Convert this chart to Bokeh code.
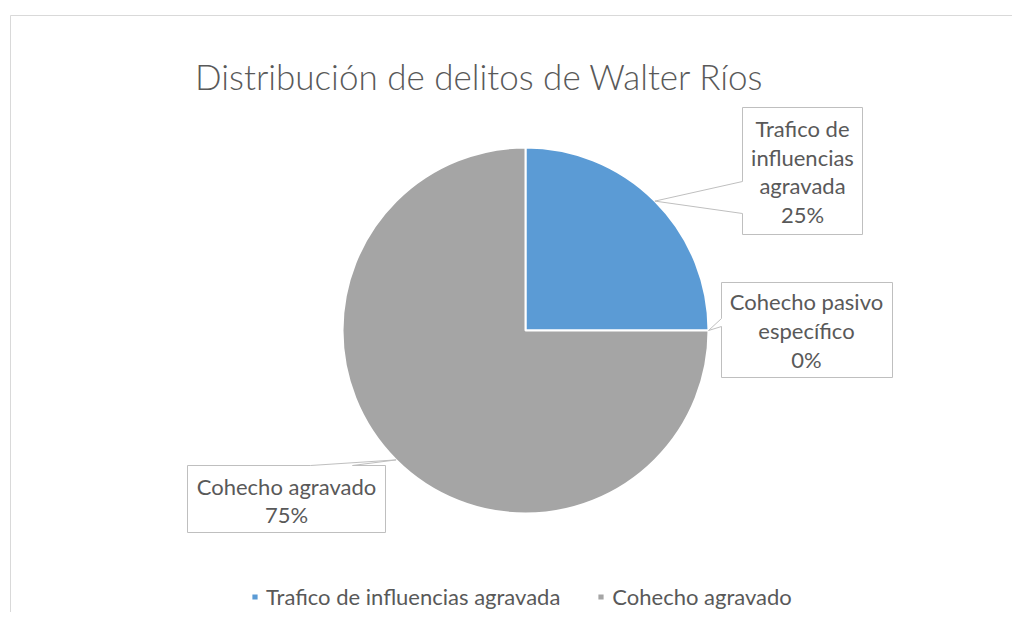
import math
from bokeh.plotting import figure
from bokeh.models import ColumnDataSource, Range1d, Legend, LegendItem, Label
from bokeh.core.properties import value
from bokeh.embed import file_html
from bokeh.resources import INLINE

# ---- data ----
categories = ["Trafico de influencias agravada", "Cohecho pasivo específico", "Cohecho agravado"]
label_names = ["Trafico de\ninfluencias\nagravada", "Cohecho pasivo\nespecífico", "Cohecho agravado"]
values = [25, 0, 75]
colors = ["#5B9BD5", "#ED7D31", "#A5A5A5"]
title_text = "Distribución de delitos de Walter Ríos"

FONT = "Lato"
TXT = "#595959"

W, H = 1012, 612
def Y(py):
    return H - py

p = figure(width=W, height=H, output_backend="svg", toolbar_location=None,
           x_range=Range1d(0, W), y_range=Range1d(0, H),
           min_border=0, outline_line_color=None)
p.axis.visible = False
p.grid.visible = False
p.background_fill_color = "white"
p.border_fill_color = "white"

# chart frame
p.line([10, 10, 1040], [Y(700), Y(15), Y(15)], line_color="#D9D9D9", line_width=1)

# ---- pie ----
cx, cy, r = 525, Y(330), 183
total = float(sum(values))
starts, ends, mids = [], [], []
cum = 0.0
for v in values:
    a0 = math.pi / 2 - 2 * math.pi * cum / total
    cum += v
    a1 = math.pi / 2 - 2 * math.pi * cum / total
    starts.append(a0); ends.append(a1); mids.append((a0 + a1) / 2)

idx = [i for i, v in enumerate(values) if v > 0]
src = ColumnDataSource(dict(
    start=[starts[i] for i in idx], end=[ends[i] for i in idx],
    color=[colors[i] for i in idx], name=[categories[i] for i in idx]))
wedges = p.wedge(x=cx, y=cy, radius=r, start_angle="start", end_angle="end",
                 direction="clock", fill_color="color", line_color="white",
                 line_width=2, source=src)

# ---- callout labels ----
boxes = [
    dict(l=742, t=107, r=862, b=234, side="left", p0=181, p1=213, tx=802, ty=171),
    dict(l=721, t=282, r=892, b=377, side="left", p0=318, p1=326, tx=806, ty=330),
    dict(l=187, t=465, r=385, b=532, side="top", p0=310, p1=352, tx=286, ty=500),
]
for i, bx in enumerate(boxes):
    ax = cx + r * math.cos(mids[i])
    ay = cy + r * math.sin(mids[i])
    if bx["side"] == "left":
        xs = [bx["l"], bx["r"], bx["r"], bx["l"], bx["l"], ax, bx["l"]]
        ys = [Y(bx["t"]), Y(bx["t"]), Y(bx["b"]), Y(bx["b"]), Y(bx["p1"]), ay, Y(bx["p0"])]
    else:
        xs = [bx["l"], bx["p0"], ax, bx["p1"], bx["r"], bx["r"], bx["l"]]
        ys = [Y(bx["t"]), Y(bx["t"]), ay, Y(bx["t"]), Y(bx["t"]), Y(bx["b"]), Y(bx["b"])]
    p.patch(xs, ys, fill_color="white", line_color="#BFBFBF", line_width=1)
    pct = round(100 * values[i] / total)
    p.text(x=[bx["tx"]], y=[Y(bx["ty"])], text=[f"{label_names[i]}\n{pct}%"],
           text_align="center", text_baseline="middle",
           text_font=value(FONT), text_font_size="22px", text_color=TXT,
           text_line_height=1.07)

# ---- title ----
p.add_layout(Label(x=479, y=Y(75), text=title_text, text_align="center",
                   text_baseline="middle", text_font="Lato Light", text_font_size="35px",
                   text_color=TXT))

# ---- legend ----
items = [LegendItem(label=categories[i], renderers=[wedges], index=k)
         for k, i in enumerate(idx)]
legend = Legend(items=items, orientation="horizontal", location=(250, 2),
                glyph_width=9, glyph_height=9, label_standoff=7, spacing=36,
                padding=0, margin=0, border_line_color=None,
                background_fill_alpha=0,
                label_text_font=FONT, label_text_font_size="22px",
                label_text_color=TXT)
p.add_layout(legend, "center")

open("out.html", "w").write(file_html(p, INLINE))
